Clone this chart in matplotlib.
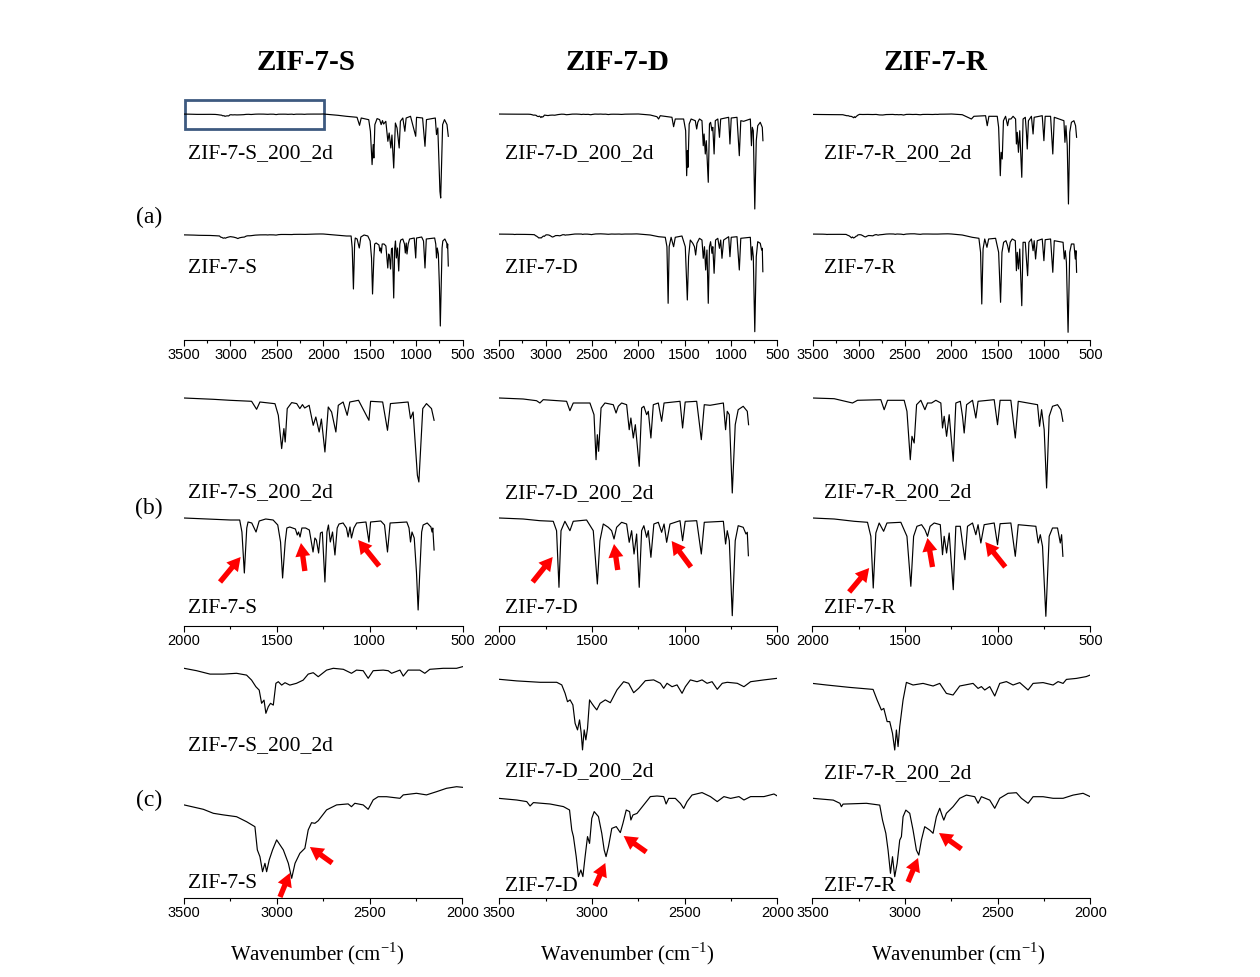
import matplotlib.pyplot as plt
from matplotlib.patches import Rectangle
from matplotlib.ticker import MultipleLocator

plt.rcParams['font.family'] = ['Liberation Serif', 'DejaVu Serif']
plt.rcParams['mathtext.fontset'] = 'custom'
plt.rcParams['mathtext.rm'] = 'Liberation Serif'

# ---- C-H stretching region (3500-2000 cm-1), transmittance %
ch_wn_S200 = [3500, 3432, 3360, 3288, 3217, 3163, 3136, 3113, 3095, 3082, 3069, 3059, 3046, 3034, 3019,
              3005, 2992, 2974, 2956, 2930, 2894, 2858, 2831, 2804, 2777, 2732, 2696, 2642, 2598, 2571,
              2535, 2508, 2481, 2427, 2400, 2382, 2337, 2319, 2293, 2230, 2203, 2176, 2104, 2032, 2000]
ch_T_S200 = [99.92, 99.80, 99.63, 99.63, 99.67, 99.58, 99.33, 99.00, 98.83, 98.17, 98.33, 97.67, 98.00, 98.17, 98.08,
             99.17, 99.25, 99.08, 99.20, 99.08, 99.17, 99.33, 99.63, 99.70, 99.50, 99.83, 99.92, 99.87, 99.67, 99.83,
             99.80, 99.42, 99.80, 99.83, 99.80, 99.67, 99.83, 99.53, 99.83, 99.83, 99.67, 99.87, 99.92, 99.92, 100.0]

ch_wn_S = [3500, 3396, 3342, 3288, 3217, 3163, 3118, 3105, 3091, 3077, 3064, 3055, 3041, 3023, 3001,
           2983, 2965, 2938, 2920, 2902, 2876, 2849, 2831, 2813, 2795, 2777, 2732, 2678, 2616, 2598,
           2580, 2535, 2508, 2481, 2454, 2409, 2337, 2319, 2248, 2194, 2140, 2086, 2032, 2000]
ch_T_S = [99.12, 98.90, 98.70, 98.62, 98.53, 98.28, 98.03, 96.87, 96.53, 95.78, 96.20, 95.78, 96.37, 96.87, 97.37,
          97.12, 96.87, 96.20, 95.45, 96.20, 96.70, 96.95, 97.87, 98.23, 98.20, 98.33, 98.87, 99.12, 99.17, 99.03,
          99.20, 99.12, 98.90, 99.37, 99.53, 99.53, 99.45, 99.62, 99.70, 99.62, 99.78, 99.95, 100.03, 100.0]

ch_wn_D200 = [3500, 3406, 3280, 3190, 3163, 3145, 3132, 3118, 3103, 3091, 3078, 3067, 3058, 3051, 3042,
              3033, 3024, 3013, 3001, 2988, 2974, 2956, 2928, 2901, 2865, 2829, 2802, 2775, 2748, 2712,
              2667, 2631, 2613, 2595, 2568, 2541, 2514, 2496, 2469, 2433, 2406, 2379, 2352, 2324, 2297,
              2270, 2216, 2180, 2144, 2072, 2000]
ch_T_D200 = [99.95, 99.87, 99.80, 99.80, 99.67, 99.25, 98.83, 98.92, 98.67, 97.75, 97.42, 97.92, 97.25, 96.42, 97.42,
             96.92, 97.50, 98.92, 98.75, 98.58, 98.42, 98.75, 98.92, 98.78, 99.42, 99.83, 99.75, 99.28, 99.50, 99.88,
             99.92, 99.75, 99.50, 99.75, 99.58, 99.67, 99.25, 99.58, 99.92, 99.83, 99.92, 99.75, 99.83, 99.45, 99.75,
             99.80, 99.75, 99.58, 99.83, 99.92, 100.0]

ch_wn_D = [3500, 3406, 3352, 3334, 3316, 3226, 3154, 3121, 3109, 3100, 3085, 3073, 3060, 3049, 3037,
           3024, 3013, 3001, 2988, 2965, 2947, 2934, 2924, 2911, 2893, 2869, 2847, 2833, 2815, 2797,
           2790, 2779, 2757, 2721, 2685, 2649, 2613, 2600, 2586, 2550, 2523, 2505, 2487, 2460, 2406,
           2361, 2324, 2288, 2252, 2207, 2180, 2144, 2072, 2018, 2000]
ch_T_D = [99.88, 99.80, 99.72, 99.50, 99.67, 99.60, 99.47, 99.30, 98.30, 97.97, 96.97, 95.97, 96.30, 95.97, 96.97,
          97.97, 97.63, 98.88, 99.22, 98.97, 98.13, 97.30, 96.97, 97.47, 98.38, 98.47, 98.17, 98.63, 99.30, 99.22,
          98.80, 99.05, 99.13, 99.55, 99.97, 100.0, 99.97, 99.60, 99.88, 99.88, 99.63, 99.38, 99.72, 100.05, 100.17,
          99.97, 99.72, 99.97, 99.88, 99.97, 99.80, 99.97, 99.97, 100.10, 100.0]

ch_wn_R200 = [3500, 3424, 3299, 3173, 3151, 3128, 3115, 3097, 3083, 3068, 3056, 3047, 3038, 3029, 3011,
              2993, 2957, 2903, 2849, 2813, 2777, 2741, 2705, 2633, 2606, 2588, 2570, 2543, 2516, 2489,
              2453, 2417, 2381, 2336, 2309, 2255, 2201, 2174, 2147, 2129, 2075, 2022, 2000]
ch_T_R200 = [99.58, 99.50, 99.38, 99.28, 98.75, 98.25, 98.33, 97.67, 97.67, 97.08, 96.25, 97.25, 96.42, 97.42, 98.75,
             99.63, 99.50, 99.58, 99.45, 99.58, 99.08, 99.00, 99.45, 99.58, 99.33, 99.42, 99.25, 99.42, 98.95, 99.58,
             99.67, 99.50, 99.62, 99.25, 99.58, 99.62, 99.50, 99.67, 99.58, 99.78, 99.83, 99.92, 100.0]

ch_wn_R = [3500, 3388, 3352, 3344, 3335, 3209, 3137, 3122, 3104, 3092, 3079, 3068, 3056, 3043, 3029,
           3020, 3011, 2996, 2975, 2957, 2939, 2926, 2912, 2894, 2867, 2849, 2831, 2813, 2798, 2791,
           2777, 2741, 2705, 2669, 2624, 2606, 2588, 2543, 2516, 2489, 2444, 2399, 2372, 2336, 2309,
           2255, 2201, 2147, 2093, 2039, 2000]
ch_T_R = [99.92, 99.83, 99.67, 99.50, 99.63, 99.67, 99.58, 98.83, 98.17, 97.33, 96.17, 97.00, 96.00, 96.67, 97.83,
          98.00, 99.00, 99.33, 99.17, 98.33, 97.33, 97.08, 97.83, 98.50, 98.33, 98.17, 99.00, 99.42, 99.00, 98.83,
          99.17, 99.50, 99.92, 100.08, 100.0, 99.67, 100.0, 99.83, 99.42, 99.92, 100.17, 100.20, 99.92, 99.67, 100.0,
          100.0, 99.92, 99.92, 100.08, 100.17, 100.0]

# ---- fingerprint region (2000-650 cm-1), transmittance %
fp_wn_S200 = [2000, 1842, 1752, 1636, 1609, 1591, 1510, 1492, 1474, 1462, 1455, 1444, 1420, 1393, 1376,
              1362, 1350, 1326, 1304, 1290, 1272, 1260, 1241, 1223, 1205, 1182, 1169, 1143, 1121, 1107,
              1060, 1004, 995, 930, 904, 888, 793, 780, 766, 743, 735, 714, 694, 667, 653]
fp_T_S200 = [100, 98.7, 97.7, 96.7, 88.7, 96, 94.3, 82.7, 49.4, 69.4, 56, 89.4, 95.4, 94.4, 89.4,
             93.4, 90, 92.7, 72.7, 81, 66, 79, 46, 91, 86, 66, 92.7, 96, 82.7, 96,
             97.7, 77.7, 96.7, 96, 67.7, 94.4, 96, 79.4, 86, 22.7, 16, 89.4, 94.4, 89.4, 77.7]

fp_wn_S = [2000, 1750, 1700, 1688, 1675, 1662, 1655, 1635, 1612, 1595, 1560, 1520, 1495, 1480, 1469,
           1455, 1446, 1430, 1415, 1400, 1390, 1383, 1375, 1365, 1345, 1325, 1305, 1295, 1287, 1275,
           1265, 1255, 1241, 1230, 1222, 1212, 1200, 1187, 1175, 1165, 1143, 1125, 1116, 1106, 1098,
           1085, 1070, 1020, 1004, 995, 940, 920, 904, 890, 800, 788, 780, 772, 760, 748,
           739, 730, 720, 712, 690, 670, 664, 660, 653]
fp_T_S = [100, 98, 98, 86, 45, 90, 96, 95, 86, 97, 99, 98, 93, 76, 40,
          76, 90, 91, 90, 89, 83, 86, 81, 90, 90, 88, 66, 80, 78, 65,
          85, 86, 36, 86, 93, 76, 86, 63, 90, 94, 95, 90, 81, 91, 80,
          90, 95, 96, 76, 96, 97, 93, 66, 95, 96, 90, 76, 86, 80, 46,
          8, 46, 86, 93, 95, 91, 86, 90, 68]

fp_wn_D200 = [2000, 1871, 1799, 1781, 1763, 1637, 1619, 1601, 1511, 1489, 1478, 1471, 1464, 1451, 1430,
              1385, 1370, 1358, 1340, 1313, 1299, 1290, 1277, 1266, 1245, 1232, 1220, 1205, 1196, 1182,
              1169, 1142, 1124, 1111, 1025, 1011, 997, 935, 910, 894, 863, 791, 779, 770, 759,
              743, 727, 711, 684, 662, 655]
fp_T_D200 = [100, 99, 97.3, 95, 98.3, 96.7, 87.3, 95, 95, 83.3, 38.3, 63.3, 46.7, 90, 95,
             93.3, 85, 91.7, 95, 93.3, 68.3, 80, 60, 73.3, 31.7, 90, 91.7, 83.3, 86.7, 60,
             93.3, 95, 76.7, 95, 96.7, 70, 96, 96.7, 58.3, 93.3, 92.7, 95, 68.3, 86.7, 83.3,
             5, 73.3, 88.3, 91.7, 86.7, 73.3]

fp_wn_D = [2000, 1871, 1781, 1709, 1691, 1678, 1667, 1646, 1619, 1601, 1529, 1493, 1471, 1457, 1439,
           1412, 1394, 1381, 1367, 1340, 1313, 1299, 1286, 1273, 1259, 1245, 1232, 1220, 1205, 1196,
           1182, 1166, 1142, 1124, 1111, 1097, 1079, 1025, 1011, 997, 935, 910, 894, 791, 779,
           770, 759, 743, 727, 711, 684, 669, 662, 656]
fp_T_D = [100, 99, 97.3, 96.7, 87.3, 30.7, 87.3, 96.7, 87.3, 96.7, 98, 87.3, 34, 77.3, 94,
          90.7, 87.3, 79, 90.7, 95.7, 94, 75.7, 87.3, 64, 84, 30.7, 87.3, 92.3, 80.7, 87.3,
          60.7, 94, 95.7, 85.7, 94, 75.7, 94, 97.3, 77.3, 96.7, 97.3, 64, 95.7, 96.7, 74,
          87.3, 77.3, 2.3, 77.3, 92.3, 90.7, 84, 85.7, 62.3]

fp_wn_R200 = [2000, 1883, 1784, 1757, 1631, 1613, 1595, 1505, 1490, 1472, 1463, 1451, 1438, 1415, 1393,
              1379, 1357, 1334, 1307, 1298, 1289, 1276, 1262, 1240, 1226, 1202, 1190, 1181, 1168, 1136,
              1118, 1106, 1019, 1001, 987, 929, 905, 889, 785, 774, 763, 749, 736, 722, 704,
              677, 659, 648]
fp_T_R200 = [100, 99.3, 95, 97.7, 98.3, 88.3, 97.7, 97.7, 86.7, 38.3, 61.7, 55, 93.3, 97.7, 88.3,
             95, 95, 97.7, 95, 70, 81.7, 61.7, 83.3, 36.7, 95, 96.7, 81.7, 65, 93.3, 97.7,
             80, 96.7, 98.3, 73.3, 97.7, 97.7, 60, 96.7, 93.3, 71.7, 88.3, 68.3, 10, 81.7, 91.7,
             93.3, 88.3, 76.7]

fp_wn_R = [2000, 1883, 1775, 1703, 1685, 1672, 1658, 1640, 1616, 1598, 1523, 1490, 1469, 1454, 1436,
           1411, 1393, 1379, 1365, 1343, 1310, 1298, 1289, 1276, 1262, 1240, 1226, 1202, 1190, 1177,
           1163, 1136, 1118, 1106, 1091, 1073, 1019, 1001, 987, 929, 905, 889, 794, 781, 770,
           758, 740, 722, 704, 677, 662, 655, 648]
fp_T_R = [100, 99, 96.7, 95.7, 81.7, 30, 85, 95, 86.7, 95, 95.7, 81.7, 31.7, 81.7, 91.7,
          93.3, 88.3, 81.7, 91.7, 95, 93.3, 63.3, 81.7, 65, 85, 28.3, 91.7, 91.7, 75, 58.3,
          91.7, 95, 83.3, 93.3, 75, 93.3, 95, 73.3, 94.3, 95, 61.7, 93.3, 91.7, 75, 83.3,
          71.7, 1.7, 81.7, 90, 90, 75, 83.3, 61.7]

columns = ['ZIF-7-S', 'ZIF-7-D', 'ZIF-7-R']
top_labels = ['ZIF-7-S_200_2d', 'ZIF-7-D_200_2d', 'ZIF-7-R_200_2d']
bottom_labels = ['ZIF-7-S', 'ZIF-7-D', 'ZIF-7-R']
row_tags = ['(a)', '(b)', '(c)']

spectra = {
    'S': ((ch_wn_S200, ch_T_S200, fp_wn_S200, fp_T_S200), (ch_wn_S, ch_T_S, fp_wn_S, fp_T_S)),
    'D': ((ch_wn_D200, ch_T_D200, fp_wn_D200, fp_T_D200), (ch_wn_D, ch_T_D, fp_wn_D, fp_T_D)),
    'R': ((ch_wn_R200, ch_T_R200, fp_wn_R200, fp_T_R200), (ch_wn_R, ch_T_R, fp_wn_R, fp_T_R)),
}

# ---- layout (figure pixels)
W, H = 1260, 977
col_x = [(184, 462.5), (499.3, 777.3), (812.5, 1090.3)]
row_y = [(94, 340), (380, 626), (655, 898)]
row_xlim = [(3500, 500), (2000, 500), (3500, 2000)]
ab_offsets = [(126, 6), (128, 8)]                       # (top, bottom) for rows a, b
c_offsets = [(231.3, 110.7), (219.7, 102), (223, 101.3)]  # row c, per column
c_gain = 20
label_x = [188, 505, 824]
# label baselines [column][row] -> (top trace, bottom trace)
label_y = [
    [(158, 273), (497, 613), (750, 888)],
    [(158, 273), (498, 613), (776, 891)],
    [(158, 273), (497, 613), (778, 891)],
]
title_x = [306, 618, 936]
xlabel_x = [317, 627, 958]

# red arrows (tail wn, tail y, head wn, head y)
arrows_b = [
    [(1806, 44, 1695, 69), (1349, 55, 1370, 83), (949, 60, 1062, 86)],
    [(1820, 44, 1712, 69), (1361, 56, 1381, 82), (966, 59, 1070, 85)],
    [(1802, 34, 1694, 58), (1352, 59, 1379, 88), (959, 59, 1067, 84)],
]
arrows_c = [
    [(2983, 1, 2930, 25), (2702, 35, 2822, 51)],
    [(2983, 12, 2928, 35), (2707, 46, 2829, 62)],
    [(2984, 16, 2930, 40), (2696, 49, 2817, 65)],
]

fig = plt.figure(figsize=(W / 100, H / 100), dpi=100)

for ci, key in enumerate(['S', 'D', 'R']):
    top, bot = spectra[key]
    x0, x1 = col_x[ci]
    for ri in range(3):
        y0, y1 = row_y[ri]
        ax = fig.add_axes([x0 / W, 1 - y1 / H, (x1 - x0) / W, (y1 - y0) / H])
        ax.set_xlim(*row_xlim[ri])
        ax.set_ylim(0, y1 - y0)
        for trace, off_i in ((top, 0), (bot, 1)):
            ch_wn, ch_T, fp_wn, fp_T = trace
            if ri == 0:
                wn = ch_wn + fp_wn[1:]
                T = ch_T + fp_T[1:]
                ax.plot(wn, [t + ab_offsets[0][off_i] for t in T], color='black', lw=0.85)
            elif ri == 1:
                ax.plot(fp_wn, [t + ab_offsets[1][off_i] for t in fp_T], color='black', lw=0.85)
            else:
                off = c_offsets[ci][off_i]
                ax.plot(ch_wn, [off + (t - 100) * c_gain for t in ch_T], color='black', lw=0.85)

        for side in ('left', 'right', 'top'):
            ax.spines[side].set_visible(False)
        ax.spines['bottom'].set_linewidth(0.8)
        ax.set_yticks([])
        ax.xaxis.set_major_locator(MultipleLocator(500))
        ax.xaxis.set_minor_locator(MultipleLocator(250))
        ax.tick_params(axis='x', which='major', direction='out', length=4, width=0.8, pad=2)
        ax.tick_params(axis='x', which='minor', direction='out', length=2.5, width=0.8)
        for lab in ax.get_xticklabels():
            lab.set_fontfamily('Liberation Sans')
            lab.set_fontsize(10.5)
        ax.patch.set_alpha(0)

        arrows = arrows_b[ci] if ri == 1 else arrows_c[ci] if ri == 2 else []
        for tx, ty, hx, hy in arrows:
            ax.annotate('', xy=(hx, hy), xytext=(tx, ty), annotation_clip=False,
                        arrowprops=dict(arrowstyle='simple,head_length=0.8,head_width=0.9,tail_width=0.32',
                                        fc='red', ec='none', mutation_scale=12, shrinkA=0, shrinkB=0))

        if ci == 0 and ri == 0:
            ax.add_patch(Rectangle((1990, 211), 1500, 29, fill=False, edgecolor='#3d5a80',
                                   lw=2, clip_on=False))

        fig.text(label_x[ci] / W, 1 - label_y[ci][ri][0] / H, top_labels[ci], fontsize=15.5, va='baseline')
        fig.text(label_x[ci] / W, 1 - label_y[ci][ri][1] / H, bottom_labels[ci], fontsize=15.5, va='baseline')

    fig.text(title_x[ci] / W, 1 - 70 / H, columns[ci], fontsize=21, fontweight='bold',
             ha='center', va='baseline')
    fig.text(xlabel_x[ci] / W, 1 - 960 / H, r'Wavenumber (cm$^{-1}$)', fontsize=15,
             ha='center', va='baseline')

for ri, tag in enumerate(row_tags):
    fig.text(149 / W, 1 - [217, 508, 800][ri] / H, tag, fontsize=17, ha='center', va='center')

fig.savefig('out.png', dpi=100)
